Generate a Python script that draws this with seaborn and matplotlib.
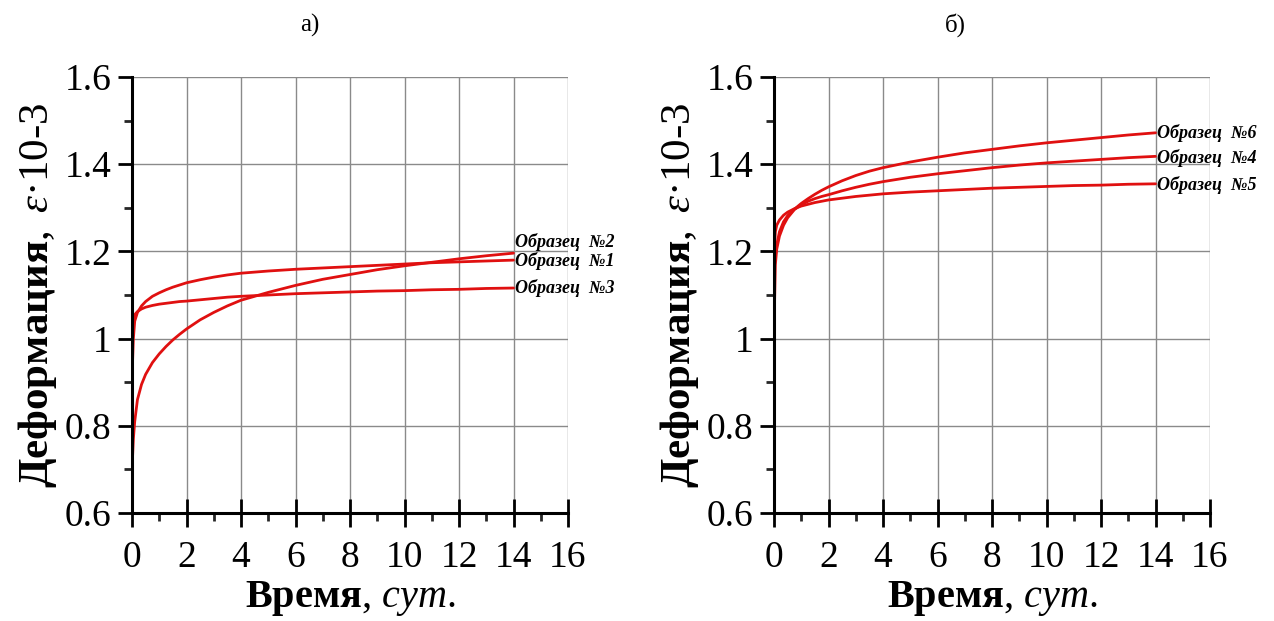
import matplotlib
matplotlib.use("Agg")
import matplotlib.pyplot as plt
import seaborn as sns
import pandas as pd
from matplotlib.ticker import MultipleLocator, FixedLocator

# ---- data ----
t = [0, 0.05, 0.1, 0.2, 0.35, 0.5, 0.75, 1, 1.25, 1.5, 1.75, 2, 2.5, 3, 3.5, 4, 5, 6, 7, 8, 9, 10, 11, 12, 13, 14]

s1 = [0.91, 1.00, 1.04, 1.06, 1.075, 1.085, 1.097, 1.105, 1.112, 1.118, 1.123, 1.128, 1.135, 1.141, 1.146, 1.150, 1.155, 1.159, 1.162, 1.165, 1.168, 1.171, 1.174, 1.176, 1.178, 1.180]
s2 = [0.70, 0.77, 0.81, 0.86, 0.895, 0.918, 0.945, 0.965, 0.982, 0.997, 1.010, 1.022, 1.043, 1.060, 1.075, 1.088, 1.106, 1.122, 1.136, 1.147, 1.158, 1.167, 1.175, 1.183, 1.190, 1.196]
s3 = [1.02, 1.045, 1.055, 1.062, 1.068, 1.072, 1.076, 1.079, 1.081, 1.083, 1.085, 1.086, 1.089, 1.092, 1.095, 1.097, 1.100, 1.103, 1.105, 1.107, 1.109, 1.110, 1.112, 1.113, 1.115, 1.116]

s4 = [1.02, 1.17, 1.205, 1.235, 1.26, 1.277, 1.296, 1.307, 1.315, 1.321, 1.326, 1.330, 1.339, 1.347, 1.354, 1.360, 1.370, 1.378, 1.385, 1.392, 1.398, 1.403, 1.407, 1.411, 1.415, 1.418]
s5 = [1.19, 1.245, 1.26, 1.272, 1.283, 1.29, 1.298, 1.304, 1.308, 1.312, 1.315, 1.318, 1.322, 1.326, 1.329, 1.332, 1.336, 1.339, 1.342, 1.345, 1.347, 1.349, 1.351, 1.352, 1.354, 1.355]
s6 = [1.15, 1.19, 1.215, 1.245, 1.268, 1.282, 1.297, 1.310, 1.321, 1.331, 1.340, 1.348, 1.362, 1.374, 1.384, 1.392, 1.405, 1.416, 1.426, 1.434, 1.442, 1.449, 1.455, 1.461, 1.467, 1.472]

left_names = ["Образец  №2", "Образец  №1", "Образец  №3"]
left_series = [s2, s1, s3]
left_label_y = [1.222, 1.178, 1.116]

right_names = ["Образец  №6", "Образец  №4", "Образец  №5"]
right_series = [s6, s4, s5]
right_label_y = [1.472, 1.414, 1.352]

panel_titles = ["а)", "б)"]
yticks = [0.6, 0.8, 1.0, 1.2, 1.4, 1.6]
ytick_labels = ["0.6", "0.8", "1", "1.2", "1.4", "1.6"]
xticks = [0, 2, 4, 6, 8, 10, 12, 14, 16]

# ---- style ----
sns.set_theme(style="white")
plt.rcParams["font.family"] = ["Liberation Serif", "DejaVu Serif"]
plt.rcParams["mathtext.fontset"] = "custom"
plt.rcParams["mathtext.rm"] = "Liberation Serif"
plt.rcParams["mathtext.it"] = "Liberation Serif:italic"
plt.rcParams["mathtext.bf"] = "Liberation Serif:bold"
plt.rcParams["text.color"] = "black"
plt.rcParams["axes.labelcolor"] = "black"

RED = "#e01010"

fig = plt.figure(figsize=(12.74, 6.21), dpi=100)
ax_l = fig.add_axes([132 / 1274, 1 - 513 / 621, 436 / 1274, 436 / 621])
ax_r = fig.add_axes([774 / 1274, 1 - 513 / 621, 436 / 1274, 436 / 621])


def draw(ax, names, series, label_y):
    rows = []
    for n, s in zip(names, series):
        for x, y in zip(t, s):
            rows.append({"t": x, "eps": y, "sample": n})
    df = pd.DataFrame(rows)
    sns.lineplot(data=df, x="t", y="eps", hue="sample", palette=[RED] * len(names),
                 ax=ax, legend=False, linewidth=2.0, sort=False, estimator=None, zorder=3)
    for n, s, ly in zip(names, series, label_y):
        ax.text(14.05, ly, n, fontsize=13, fontweight="bold", fontstyle="italic",
                ha="left", va="center", color="black", clip_on=False)

    ax.set_xlim(0, 16)
    ax.set_ylim(0.6, 1.6)
    ax.xaxis.set_major_locator(FixedLocator(xticks))
    ax.xaxis.set_minor_locator(MultipleLocator(1))
    ax.yaxis.set_major_locator(FixedLocator(yticks))
    ax.yaxis.set_minor_locator(MultipleLocator(0.1))
    ax.set_yticklabels(ytick_labels)
    ax.grid(True, which="major", color="#8a8a8a", linewidth=1.0)
    for sp in ["top", "right"]:
        ax.spines[sp].set_visible(False)
    for sp in ["left", "bottom"]:
        ax.spines[sp].set_color("black")
        ax.spines[sp].set_linewidth(2.2)
        ax.spines[sp].set_zorder(5)
    ax.tick_params(axis="y", which="major", direction="out", length=10, width=2, labelsize=27,
                   colors="black", pad=5, left=True)
    ax.tick_params(axis="y", which="minor", direction="out", length=6, width=2, left=True)
    ax.tick_params(axis="x", which="major", direction="inout", length=20, width=2, labelsize=27,
                   colors="black", pad=10, bottom=True)
    ax.tick_params(axis="x", which="minor", direction="out", length=6, width=2, bottom=True)
    ax.set_xlabel(r"$\mathbf{Время}$, $\mathit{сут.}$", fontsize=29, labelpad=3)
    ax.set_ylabel(r"$\mathbf{Деформация},$ $\mathit{ε·10}$-$\mathit{3}$", fontsize=31, labelpad=4)


draw(ax_l, left_names, left_series, left_label_y)
draw(ax_r, right_names, right_series, right_label_y)

fig.text(310 / 1274, 1 - 25 / 621, panel_titles[0], fontsize=18, ha="center", va="center")
fig.text(955 / 1274, 1 - 25 / 621, panel_titles[1], fontsize=18, ha="center", va="center")

fig.savefig("out.png", dpi=100, facecolor="white")
